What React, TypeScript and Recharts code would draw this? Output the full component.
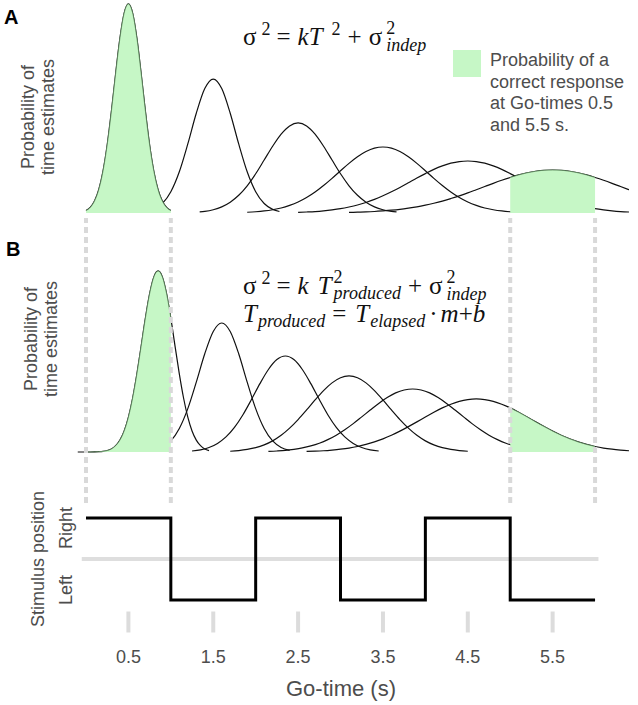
import React from 'react';
import { ComposedChart, Line, Area, XAxis, YAxis, ReferenceLine } from 'recharts';

// Go-times (s) used as x ticks
const goTimes = [0.5, 1.5, 2.5, 3.5, 4.5, 5.5];

// Panel A: estimated densities [time, probability], one curve per Go-time
const a05: [number, number][] = [[0, 0.027], [0.05, 0.063], [0.1, 0.136], [0.15, 0.266], [0.2, 0.476], [0.25, 0.779], [0.3, 1.167], [0.35, 1.597], [0.4, 1.998], [0.45, 2.285], [0.5, 2.39], [0.55, 2.285], [0.6, 1.998], [0.65, 1.597], [0.7, 1.167], [0.75, 0.779], [0.8, 0.476], [0.85, 0.266], [0.9, 0.136], [0.95, 0.063], [1, 0.027]];
const a15: [number, number][] = [[0.72, 0.017], [0.8, 0.041], [0.9, 0.108], [1, 0.243], [1.1, 0.471], [1.2, 0.789], [1.3, 1.14], [1.4, 1.422], [1.5, 1.531], [1.6, 1.422], [1.7, 1.14], [1.8, 0.789], [1.9, 0.471], [2, 0.243], [2.1, 0.108], [2.2, 0.041], [2.28, 0.017]];
const a25: [number, number][] = [[1.34, 0.012], [1.4, 0.018], [1.5, 0.037], [1.6, 0.07], [1.7, 0.123], [1.8, 0.202], [1.9, 0.311], [2, 0.448], [2.1, 0.605], [2.2, 0.763], [2.3, 0.901], [2.4, 0.995], [2.5, 1.029], [2.6, 0.995], [2.7, 0.901], [2.8, 0.763], [2.9, 0.605], [3, 0.448], [3.1, 0.311], [3.2, 0.202], [3.3, 0.123], [3.4, 0.07], [3.5, 0.037], [3.6, 0.018], [3.66, 0.012]];
const a35: [number, number][] = [[1.9, 0.008], [2, 0.014], [2.1, 0.023], [2.2, 0.037], [2.3, 0.057], [2.4, 0.087], [2.5, 0.126], [2.6, 0.177], [2.7, 0.24], [2.8, 0.314], [2.9, 0.396], [3, 0.483], [3.1, 0.567], [3.2, 0.642], [3.3, 0.702], [3.4, 0.741], [3.5, 0.754], [3.6, 0.741], [3.7, 0.702], [3.8, 0.642], [3.9, 0.567], [4, 0.483], [4.1, 0.396], [4.2, 0.314], [4.3, 0.24], [4.4, 0.177], [4.5, 0.126], [4.6, 0.087], [4.7, 0.057], [4.8, 0.037], [4.9, 0.023], [5, 0.014], [5.1, 0.008]];
const a45: [number, number][] = [[2.5, 0.007], [2.6, 0.011], [2.7, 0.016], [2.8, 0.024], [2.9, 0.035], [3, 0.049], [3.1, 0.068], [3.2, 0.091], [3.3, 0.12], [3.4, 0.155], [3.5, 0.196], [3.6, 0.242], [3.7, 0.292], [3.8, 0.345], [3.9, 0.399], [4, 0.45], [4.1, 0.498], [4.2, 0.538], [4.3, 0.569], [4.4, 0.588], [4.5, 0.594], [4.6, 0.588], [4.7, 0.569], [4.8, 0.538], [4.9, 0.498], [5, 0.45], [5.1, 0.399], [5.2, 0.345], [5.3, 0.292], [5.4, 0.242], [5.5, 0.196], [5.6, 0.155], [5.7, 0.12], [5.8, 0.091], [5.9, 0.068], [6, 0.049], [6.1, 0.035], [6.2, 0.024], [6.3, 0.016], [6.4, 0.011]];
const a55: [number, number][] = [[3.1, 0.006], [3.2, 0.009], [3.3, 0.012], [3.4, 0.017], [3.5, 0.024], [3.6, 0.032], [3.7, 0.042], [3.8, 0.055], [3.9, 0.07], [4, 0.089], [4.1, 0.111], [4.2, 0.136], [4.3, 0.165], [4.4, 0.196], [4.5, 0.23], [4.6, 0.266], [4.7, 0.302], [4.8, 0.339], [4.9, 0.374], [5, 0.406], [5.1, 0.435], [5.2, 0.459], [5.3, 0.477], [5.4, 0.488], [5.5, 0.491], [5.6, 0.488], [5.7, 0.477], [5.8, 0.459], [5.9, 0.435], [6, 0.406], [6.1, 0.374], [6.2, 0.339], [6.3, 0.302], [6.4, 0.266]];

// Panel B: produced-time densities, shifted and narrowed
const b05: [number, number][] = [[-0.1, 0], [-0.05, 0], [0, 0], [0.05, 0], [0.1, 0.001], [0.15, 0.003], [0.2, 0.007], [0.25, 0.016], [0.3, 0.035], [0.35, 0.072], [0.4, 0.136], [0.45, 0.24], [0.5, 0.398], [0.55, 0.617], [0.6, 0.893], [0.65, 1.208], [0.7, 1.529], [0.75, 1.809], [0.8, 2.001], [0.85, 2.069], [0.9, 2.001], [0.95, 1.809], [1, 1.529], [1.05, 1.208], [1.1, 0.893], [1.15, 0.617], [1.2, 0.398], [1.25, 0.24], [1.3, 0.136], [1.35, 0.072], [1.4, 0.035], [1.45, 0.016]];
const b15: [number, number][] = [[0.8, 0.019], [0.9, 0.052], [1, 0.126], [1.1, 0.268], [1.2, 0.495], [1.3, 0.798], [1.4, 1.122], [1.5, 1.377], [1.6, 1.474], [1.7, 1.377], [1.8, 1.122], [1.9, 0.798], [2, 0.495], [2.1, 0.268], [2.2, 0.126], [2.3, 0.052], [2.4, 0.019]];
const b25: [number, number][] = [[1.25, 0.011], [1.35, 0.025], [1.45, 0.051], [1.55, 0.098], [1.65, 0.172], [1.75, 0.281], [1.85, 0.426], [1.95, 0.599], [2.05, 0.781], [2.15, 0.943], [2.25, 1.056], [2.35, 1.097], [2.45, 1.056], [2.55, 0.943], [2.65, 0.781], [2.75, 0.599], [2.85, 0.426], [2.95, 0.281], [3.05, 0.172], [3.15, 0.098], [3.25, 0.051], [3.35, 0.025], [3.45, 0.011]];
const b35: [number, number][] = [[1.7, 0.008], [1.8, 0.016], [1.9, 0.029], [2, 0.049], [2.1, 0.081], [2.2, 0.127], [2.3, 0.19], [2.4, 0.272], [2.5, 0.37], [2.6, 0.48], [2.7, 0.595], [2.8, 0.702], [2.9, 0.79], [3, 0.849], [3.1, 0.869], [3.2, 0.849], [3.3, 0.79], [3.4, 0.702], [3.5, 0.595], [3.6, 0.48], [3.7, 0.37], [3.8, 0.272], [3.9, 0.19], [4, 0.127], [4.1, 0.081], [4.2, 0.049], [4.3, 0.029], [4.4, 0.016], [4.5, 0.008]];
const b45: [number, number][] = [[2.15, 0.006], [2.25, 0.011], [2.35, 0.018], [2.45, 0.03], [2.55, 0.046], [2.65, 0.069], [2.75, 0.1], [2.85, 0.141], [2.95, 0.192], [3.05, 0.254], [3.15, 0.324], [3.25, 0.401], [3.35, 0.479], [3.45, 0.555], [3.55, 0.622], [3.65, 0.675], [3.75, 0.708], [3.85, 0.72], [3.95, 0.708], [4.05, 0.675], [4.15, 0.622], [4.25, 0.555], [4.35, 0.479], [4.45, 0.401], [4.55, 0.324], [4.65, 0.254], [4.75, 0.192], [4.85, 0.141], [4.95, 0.1], [5.05, 0.069], [5.15, 0.046], [5.25, 0.03], [5.35, 0.018], [5.45, 0.011], [5.55, 0.006]];
const b55: [number, number][] = [[2.6, 0.006], [2.7, 0.009], [2.8, 0.014], [2.9, 0.022], [3, 0.032], [3.1, 0.045], [3.2, 0.063], [3.3, 0.086], [3.4, 0.115], [3.5, 0.15], [3.6, 0.191], [3.7, 0.238], [3.8, 0.29], [3.9, 0.344], [4, 0.4], [4.1, 0.454], [4.2, 0.504], [4.3, 0.546], [4.4, 0.579], [4.5, 0.599], [4.6, 0.606], [4.7, 0.599], [4.8, 0.579], [4.9, 0.546], [5, 0.504], [5.1, 0.454], [5.2, 0.4], [5.3, 0.344], [5.4, 0.29], [5.5, 0.238], [5.6, 0.191], [5.7, 0.15], [5.8, 0.115], [5.9, 0.086], [6, 0.063], [6.1, 0.045], [6.2, 0.032], [6.3, 0.022], [6.4, 0.014]];

// shaded "correct response" windows (s) for the first and last curve
const greenWindows: [number, number][] = [[0, 1], [5, 6]];
// dashed guides (s)
const guideTimes = [0, 1, 5, 6];

// stimulus side: 1 = Right, 0 = Left
const stepTimes = [0, 1, 2, 3, 4, 5, 6];
const stepSide = [1, 0, 1, 0, 1, 0, 0];
const sideNames = ['Left', 'Right'];

const X_DOMAIN: [number, number] = [-0.1, 6.4];
const SANS = '"Liberation Sans", Arial, sans-serif';
const SERIF = '"Liberation Serif", "Times New Roman", serif';
const GREEN = '#c6f7c6';
const GREY_TEXT = '#4d4d4d';

const toPts = (c: [number, number][]) => c.map(([t, p]) => ({ t, p }));

function DensityPanel({ curves, top }: { curves: [number, number][][]; top: number }) {
  const pts = curves.map(toPts);
  const shaded = [pts[0], pts[pts.length - 1]];
  return (
    <div style={{ position: 'absolute', left: 0, top }}>
      <ComposedChart width={638} height={220} margin={{ top: 3, right: 9, bottom: 4.4, left: 77.5 }}>
        <XAxis type="number" dataKey="t" domain={X_DOMAIN} hide allowDataOverflow />
        <YAxis type="number" domain={[-0.03, 2.4]} hide allowDataOverflow />
        {pts.map((d, i) => (
          <Line key={i} data={d} dataKey="p" type="monotone" stroke="#111" strokeWidth={1.2}
            dot={false} activeDot={false} isAnimationActive={false} />
        ))}
        {greenWindows.map(([lo, hi], j) => (
          <Area key={'g' + j} data={shaded[j].filter((q) => q.t >= lo - 1e-6 && q.t <= hi + 1e-6)}
            dataKey="p" type="monotone" baseValue={0} fill={GREEN} fillOpacity={1}
            stroke="#5d8a5d" strokeWidth={0.8} zIndex={500} isAnimationActive={false} />
        ))}
      </ComposedChart>
    </div>
  );
}

const SideTick = (props: any) => {
  const { x, y, payload } = props;
  const cx = x + 2.5;
  const cy = y + (payload.value === 1 ? 10 : -10);
  return (
    <text x={cx} y={cy} transform={`rotate(-90 ${cx} ${cy})`} textAnchor="middle"
      fill={GREY_TEXT} fontSize={18} fontFamily={SANS}>
      {sideNames[payload.value]}
    </text>
  );
};

export default function App() {
  const stepData = stepTimes.map((t, i) => ({ t, side: stepSide[i] }));
  return (
    <div style={{ position: 'absolute', left: 0, top: 0, width: 638, height: 705, background: '#fff', overflow: 'hidden' }}>
      <svg width={638} height={705} style={{ position: 'absolute', left: 0, top: 0 }}>
        <text x={4} y={24} fontFamily={SANS} fontWeight="bold" fontSize={20}>A</text>
        <text x={6} y={256} fontFamily={SANS} fontWeight="bold" fontSize={20}>B</text>

        {/* y titles */}
        {[117, 339].map((cy, k) => (
          <g key={k} fill={GREY_TEXT} fontFamily={SANS} fontSize={18} textAnchor="middle">
            <text transform={`translate(${34 + k * 3},${cy}) rotate(-90)`}>Probability of</text>
            <text transform={`translate(${54 + k * 3},${cy}) rotate(-90)`}>time estimates</text>
          </g>
        ))}
        <text transform="translate(44,559) rotate(-90)" textAnchor="middle" fill={GREY_TEXT}
          fontFamily={SANS} fontSize={18}>Stimulus position</text>

        {/* legend */}
        <rect x={453} y={50} width={28} height={27} fill={GREEN} />
        <g fill={GREY_TEXT} fontFamily={SANS} fontSize={18}>
          <text x={490} y={66}>Probability of a</text>
          <text x={490} y={88}>correct response</text>
          <text x={490} y={109}>at Go-times 0.5</text>
          <text x={490} y={131}>and 5.5 s.</text>
        </g>

        {/* equations */}
        <text x={243} y={45} fontFamily={SERIF} fontSize={25} fill="#111">
          σ
          <tspan dx={5} dy={-10} fontSize={18}>2</tspan>
          <tspan dx={6} dy={10}>=</tspan>
          <tspan dx={7} fontStyle="italic">kT</tspan>
          <tspan dx={9} dy={-10} fontSize={18}>2</tspan>
          <tspan dx={7} dy={10}>+</tspan>
          <tspan dx={7}>σ</tspan>
          <tspan dx={4} dy={-11} fontSize={18}>2</tspan>
          <tspan dx={-9} dy={17} fontSize={18} fontStyle="italic">indep</tspan>
        </text>
        <text x={243} y={294} fontFamily={SERIF} fontSize={25} fill="#111">
          σ
          <tspan dx={5} dy={-10} fontSize={18}>2</tspan>
          <tspan dx={6} dy={10}>=</tspan>
          <tspan dx={7} fontStyle="italic">k</tspan>
          <tspan dx={9} fontStyle="italic">T</tspan>
          <tspan dx={2} dy={-11} fontSize={18}>2</tspan>
          <tspan dx={-9} dy={16} fontSize={18} fontStyle="italic">produced</tspan>
          <tspan dx={7} dy={-5}>+</tspan>
          <tspan dx={7}>σ</tspan>
          <tspan dx={4} dy={-11} fontSize={18}>2</tspan>
          <tspan dx={-9} dy={17} fontSize={18} fontStyle="italic">indep</tspan>
        </text>
        <text x={243} y={322} fontFamily={SERIF} fontSize={25} fill="#111">
          <tspan fontStyle="italic">T</tspan>
          <tspan dx={1} dy={5} fontSize={18} fontStyle="italic">produced</tspan>
          <tspan dx={7} dy={-5}>=</tspan>
          <tspan dx={9} fontStyle="italic">T</tspan>
          <tspan dx={1} dy={5} fontSize={18} fontStyle="italic">elapsed</tspan>
          <tspan dx={4} dy={-5}>·</tspan>
          <tspan dx={3} fontStyle="italic">m</tspan>
          <tspan>+</tspan>
          <tspan fontStyle="italic">b</tspan>
        </text>

        <text x={341} y={696} textAnchor="middle" fill={GREY_TEXT} fontFamily={SANS} fontSize={22}>Go-time (s)</text>
      </svg>

      <DensityPanel curves={[a05, a15, a25, a35, a45, a55]} top={0} />
      <DensityPanel curves={[b05, b15, b25, b35, b45, b55]} top={239} />

      {/* stimulus position */}
      <div style={{ position: 'absolute', left: 0, top: 480 }}>
        <ComposedChart width={638} height={225} data={stepData}
          margin={{ top: 22.44, right: 9, bottom: 33.5, left: 37.5 }}>
          <XAxis type="number" dataKey="t" domain={X_DOMAIN} ticks={goTimes} allowDataOverflow
            axisLine={false} tickLine={{ stroke: '#dcdcdc', strokeWidth: 4 }} tickSize={21} tickMargin={18}
            height={60} tick={{ fill: GREY_TEXT, fontSize: 18, fontFamily: SANS }} />
          <YAxis type="number" domain={[-0.14, 1.19]} ticks={[0, 1]} width={40} axisLine={false}
            tickLine={false} tick={SideTick} allowDataOverflow />
          <ReferenceLine segment={[{ x: -0.05, y: 0.5 }, { x: 6.04, y: 0.5 }]} stroke="#dedede"
            strokeWidth={4} ifOverflow="visible" />
          <Line dataKey="side" type="stepAfter" stroke="#000" strokeWidth={3} dot={false}
            activeDot={false} isAnimationActive={false} />
        </ComposedChart>
      </div>

      {/* dashed guides across panels */}
      <div style={{ position: 'absolute', left: 0, top: 218 }}>
        <ComposedChart width={638} height={285} margin={{ top: 0, right: 9, bottom: 0, left: 77.5 }}>
          <XAxis type="number" dataKey="t" domain={X_DOMAIN} hide allowDataOverflow />
          <YAxis type="number" domain={[0, 1]} hide />
          {guideTimes.map((t) => (
            <Line key={t} data={[{ t, y: 0 }, { t, y: 1 }]} dataKey="y" type="linear" stroke="#d9d9d9"
              strokeWidth={4} strokeDasharray="6 4" dot={false} activeDot={false} isAnimationActive={false} />
          ))}
        </ComposedChart>
      </div>
    </div>
  );
}
